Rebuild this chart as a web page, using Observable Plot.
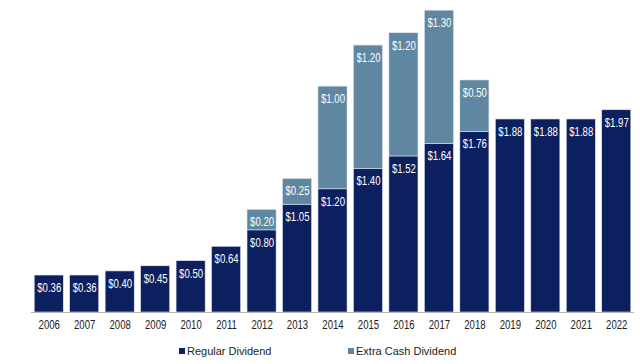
<!DOCTYPE html>
<html>
<head>
<meta charset="utf-8">
<script src="https://cdn.jsdelivr.net/npm/d3@7"></script>
<script src="https://cdn.jsdelivr.net/npm/@observablehq/plot@0.6"></script>
<style>
  html, body { margin: 0; padding: 0; background: #fff; }
  #chart { width: 640px; height: 364px; position: relative; font-family: "Liberation Sans", Arial, sans-serif; }
  #legend { position: absolute; top: 345px; left: 0; width: 640px; height: 16px; font-size: 11px; color: #222; }
  .item { position: absolute; top: 0; display: flex; align-items: center; gap: 2px; }
  .sw { width: 6px; height: 6px; display: inline-block; }
</style>
</head>
<body>
<div id="chart">
  <div id="legend">
    <div class="item" style="left:179px"><span class="sw" style="background:#0c1f5e"></span><span>Regular Dividend</span></div>
    <div class="item" style="left:348px"><span class="sw" style="background:#5f87a1"></span><span>Extra Cash Dividend</span></div>
  </div>
</div>
<script>
const years = ["2006","2007","2008","2009","2010","2011","2012","2013","2014","2015","2016","2017","2018","2019","2020","2021","2022"];
const regular = [0.36,0.36,0.40,0.45,0.50,0.64,0.80,1.05,1.20,1.40,1.52,1.64,1.76,1.88,1.88,1.88,1.97];
const extra   = [0,0,0,0,0,0,0.20,0.25,1.00,1.20,1.20,1.30,0.50,0,0,0,0];
const seriesNames = ["Regular Dividend", "Extra Cash Dividend"];
const colors = ["#0c1f5e", "#5f87a1"];

const rows = [];
years.forEach((yr, i) => {
  rows.push({year: yr, series: seriesNames[0], y1: 0, y2: regular[i], v: regular[i]});
  if (extra[i] > 0) rows.push({year: yr, series: seriesNames[1], y1: regular[i], y2: regular[i] + extra[i], v: extra[i]});
});

const chart = Plot.plot({
  width: 640,
  height: 336,
  marginLeft: 31,
  marginRight: 6,
  marginTop: 4,
  marginBottom: 24,
  style: {fontFamily: "'Liberation Sans', Arial, sans-serif", fontSize: "12px", color: "#222"},
  x: {domain: years, paddingInner: 0.18, paddingOuter: 0.09, round: false, label: null, tickSize: 0, tickPadding: 8},
  y: {domain: [0, 3], axis: null},
  color: {domain: seriesNames, range: colors},
  marks: [
    Plot.barY(rows, {x: "year", y1: "y1", y2: "y2", fill: "series", stroke: "#dfe5ee", strokeWidth: 0.6}),
    Plot.ruleY([0], {stroke: "#b5b5b5", strokeWidth: 1.2}),
    Plot.text(rows, {x: "year", y: "y2", text: d => "$" + d.v.toFixed(2), fill: "white", dy: 12.5, fontSize: 12})
  ]
});
// condense text horizontally (narrow font look)
chart.querySelectorAll("text").forEach(t => {
  const tr = t.getAttribute("transform");
  if (tr) {
    t.setAttribute("transform", tr + " scale(0.8,1)");
  } else {
    const x = +t.getAttribute("x") || 0, y = +t.getAttribute("y") || 0;
    t.setAttribute("x", 0); t.setAttribute("y", 0);
    t.setAttribute("transform", `translate(${x},${y}) scale(0.8,1)`);
  }
});
document.getElementById("chart").prepend(chart);
</script>
</body>
</html>
